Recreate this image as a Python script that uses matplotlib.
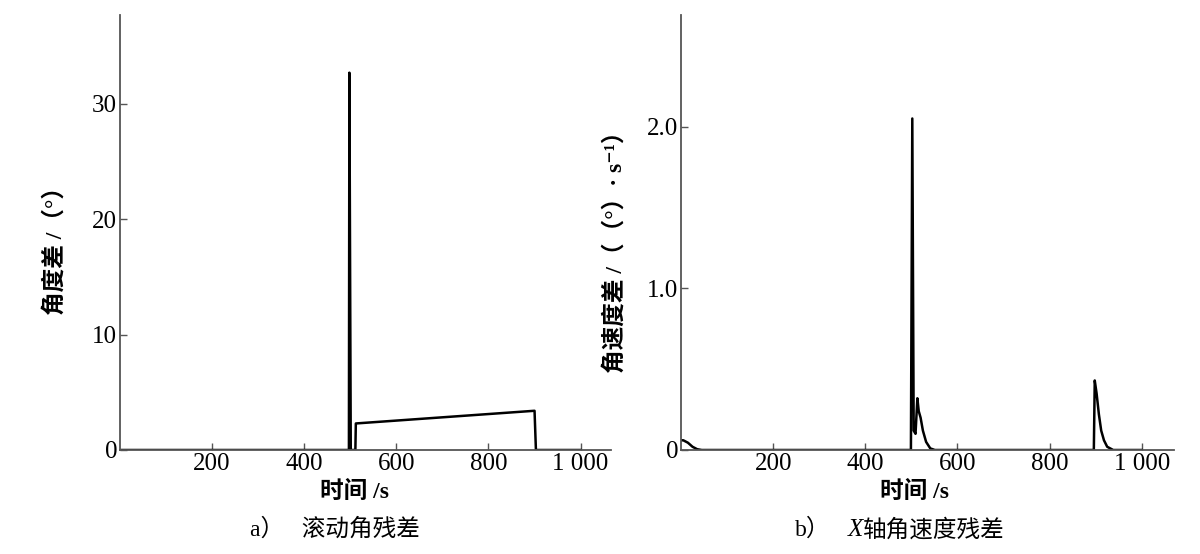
import matplotlib
matplotlib.use("Agg")
import matplotlib.pyplot as plt

# ---- data ----
t_roll = [0, 497, 498, 501, 503, 511, 512, 900, 903, 1000]
roll_resid = [0, 0, 32.7, 0, 0, 0, 2.3, 3.4, 0, 0]

t_rate = [0, 5, 15, 25, 35, 45, 499, 502, 505, 509, 513, 516, 520, 525, 532, 541, 551,
          896, 898, 902, 907, 912, 918, 925, 938, 1000]
rate_resid = [0.06, 0.06, 0.045, 0.02, 0.005, 0, 0, 2.05, 0.12, 0.1, 0.32, 0.24, 0.2,
              0.12, 0.05, 0.01, 0, 0, 0.43, 0.35, 0.22, 0.12, 0.06, 0.02, 0, 0]

x_ticks = [200, 400, 600, 800, 1000]
x_ticklabels = ["200", "400", "600", "800", "1 000"]
roll_yticks = [0, 10, 20, 30]
roll_yticklabels = ["0", "10", "20", "30"]
rate_yticks = [0, 1.0, 2.0]
rate_yticklabels = ["0", "1.0", "2.0"]

FAM = ["Liberation Serif", "Noto Sans CJK SC", "DejaVu Sans"]
plt.rcParams["font.family"] = FAM

fig = plt.figure(figsize=(12, 5.54), dpi=100)
W, H = 1200, 554

def make_ax(x0, x1, y0, y1):
    return fig.add_axes([x0 / W, 1 - y1 / H, (x1 - x0) / W, (y1 - y0) / H])

axL = make_ax(120, 611, 15, 450)
axR = make_ax(681, 1174, 15, 450)

for ax in (axL, axR):
    for s in ("top", "right"):
        ax.spines[s].set_visible(False)
    for s in ("left", "bottom"):
        ax.spines[s].set_color("#555555")
        ax.spines[s].set_linewidth(1.3)
    ax.tick_params(direction="in", length=5, width=1.0, color="#555555",
                   labelsize=18, pad=2)
    ax.set_xticks(x_ticks)
    ax.set_xticklabels(x_ticklabels, fontfamily="Liberation Serif")

axL.plot(t_roll, roll_resid, color="black", lw=1.8)
axL.set_xlim(0, 1066)
axL.set_ylim(0, 37.7)
axL.set_yticks(roll_yticks)
axL.set_yticklabels(roll_yticklabels, fontfamily="Liberation Serif")

axR.plot(t_rate, rate_resid, color="black", lw=1.8)
axR.set_xlim(0, 1070)
axR.set_ylim(0, 2.69)
axR.set_yticks(rate_yticks)
axR.set_yticklabels(rate_yticklabels, fontfamily="Liberation Serif")

# axis labels
fig.text(355 / W, 1 - 492 / H, "时间 /s", ha="center", va="center", fontsize=17,
         family=FAM, fontweight="bold")
fig.text(915 / W, 1 - 492 / H, "时间 /s", ha="center", va="center", fontsize=17,
         family=FAM, fontweight="bold")
fig.text(55 / W, 1 - 245 / H, "角度差 /（°）", ha="center", va="center", fontsize=17,
         rotation=90, family=FAM, fontweight="bold")
fig.text(615 / W, 1 - 246 / H, "角速度差 /（（°）· s⁻¹）", ha="center", va="center",
         fontsize=17, rotation=90, family=FAM, fontweight="bold")

# captions
fig.text(335 / W, 1 - 530 / H, "a）   滚动角残差", ha="center", va="center",
         fontsize=17, family=FAM)
fig.text(795 / W, 1 - 530 / H, "b）", ha="left", va="center", fontsize=17, family=FAM)
fig.text(848 / W, 1 - 530 / H, "X", ha="left", va="center", fontsize=18,
         family="Liberation Serif", style="italic")
fig.text(863 / W, 1 - 530 / H, "轴角速度残差", ha="left", va="center", fontsize=17,
         family=FAM)

fig.savefig("out.png", dpi=100)
